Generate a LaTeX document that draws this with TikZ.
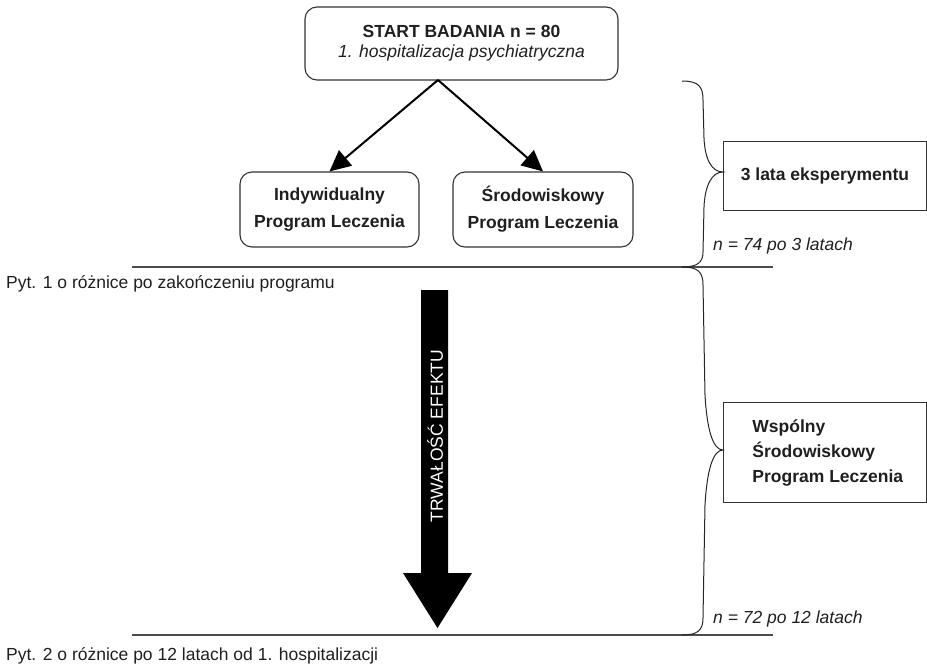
\documentclass[tikz,border=0pt]{standalone}
\usepackage{fontspec}
\setmainfont{Liberation Sans}
\usetikzlibrary{arrows.meta,positioning}

\begin{document}
\begin{tikzpicture}
[
  x=1pt, y=-1pt,
  every node/.style={text=black!88, inner sep=0pt},
  startbox/.style={draw=black!80, rounded corners=12pt, line width=1.1pt, align=center,
    minimum width=313pt, minimum height=73pt, font=\fontsize{17.5}{20}\selectfont},
  progbox/.style={draw=black!80, rounded corners=12pt, line width=1.1pt, align=center,
    minimum height=75pt, font=\bfseries\fontsize{17.5}{27}\selectfont},
  sidebox/.style={draw=black!80, line width=0.9pt, font=\bfseries\fontsize{17.5}{25}\selectfont},
  note/.style={anchor=west, font=\itshape\fontsize{17.5}{20}\selectfont},
  question/.style={anchor=west, font=\fontsize{17.5}{20}\selectfont},
  split/.style={-{Triangle[length=21pt,width=20pt]}, line width=2pt, black},
  timeline/.style={draw=black!70, line width=1.4pt},
  bracket/.style={draw=black!85, line width=1pt}
]
 % background, fixes the margins
 \useasboundingbox (0,0) rectangle (927,667);

 % study start and the two programmes
 \node[startbox] (start) at (461.5,43.5) {\textbf{START BADANIA n = 80}\\\textit{1. hospitalizacja psychiatryczna}};
 \node[progbox,minimum width=179pt] (ipl) at (329.5,209.5) {Indywidualny\\Program Leczenia};
 \node[progbox,minimum width=180pt] (spl) at (543,209.5) {Środowiskowy\\Program Leczenia};

 \coordinate (fork) at (438,80);
 \draw[split] (fork) -- (ipl.north);
 \draw[split] (fork) -- (spl.north);

 % time lines
 \coordinate (t1a) at (132,267);
 \coordinate (t1b) at (773,267);
 \coordinate (t2a) at (132,635);
 \coordinate (t2b) at (773,635);
 \draw[timeline] (t1a) -- (t1b);
 \draw[timeline] (t2a) -- (t2b);

 \node[question] (q1) at (6,284) {Pyt. 1 o różnice po zakończeniu programu};
 \node[question] (q2) at (6,656) {Pyt. 2 o różnice po 12 latach od 1. hospitalizacji};

 % big arrow
 \fill[black] (421,290) -- (448,290) -- (448,573) -- (472,573) -- (437.5,628)
   -- (403,573) -- (421,573) -- cycle;
 \node[text=white, rotate=90, font=\fontsize{17.5}{20}\selectfont] (trw) at (435,436) {TRWAŁOŚĆ EFEKTU};

 % braces
 \draw[bracket] (682,81) .. controls (699,81) and (703,87) .. (703,100) -- (704,138)
   .. controls (705,160) and (712,172) .. (723,172)
   .. controls (712,172) and (705,185) .. (704,207) -- (703,252)
   .. controls (703,262) and (698,267) .. (682,267);
 \draw[bracket] (682,267) .. controls (698,267) and (703,272) .. (703,285) -- (705,395)
   .. controls (707,430) and (713,450) .. (723,450)
   .. controls (713,450) and (707,470) .. (705,505) -- (703,618)
   .. controls (703,630) and (698,635) .. (682,635);

 \node[sidebox, minimum width=203pt, minimum height=69pt, anchor=north west] (exp) at (723,141) {3 lata eksperymentu};
 \node[sidebox, minimum width=203pt, minimum height=100pt, anchor=north west] (wspl) at (723,402) {};
 \node[sidebox, draw=none, align=left, anchor=west, right=29pt of wspl.west] (wspltxt) {Wspólny\\Środowiskowy\\Program Leczenia};

 \node[note] (n74) at (713,246) {n = 74 po 3 latach};
 \node[note] (n72) at (713,619) {n = 72 po 12 latach};
\end{tikzpicture}
\end{document}
